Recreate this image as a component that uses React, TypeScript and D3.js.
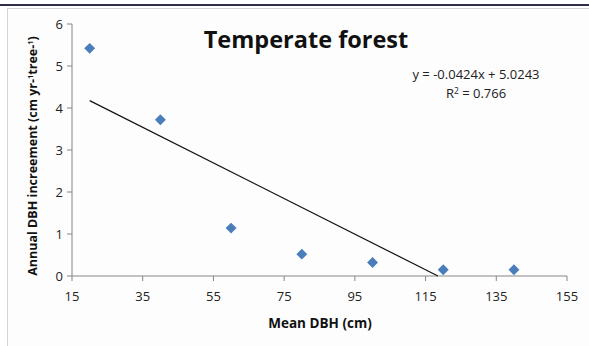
import React from "react";
import * as d3 from "d3";

const dbh = [20, 40, 60, 80, 100, 120, 140];
const increment = [5.42, 3.72, 1.14, 0.52, 0.32, 0.15, 0.15];
const xTicks = [15, 35, 55, 75, 95, 115, 135, 155];
const yTicks = [0, 1, 2, 3, 4, 5, 6];
const slope = -0.0424;
const intercept = 5.0243;

const width = 589;
const height = 346;
const font = "'Open Sans', sans-serif";

const App: React.FC = () => {
  const x = d3.scaleLinear().domain([15, 155]).range([72, 567]);
  const y = d3.scaleLinear().domain([0, 6]).range([276, 24]);

  // trend line from the first point to where it meets y = 0
  const xEnd = -intercept / slope;
  const trend = d3.line<number>()
    .x((d) => x(d))
    .y((d) => y(slope * d + intercept))([20, xEnd]);

  const diamond = d3.symbol().type(d3.symbolDiamond2).size(76)();
  const axisColor = "#868686";

  return (
    <svg width={width} height={height} style={{ position: "absolute", left: 0, top: 0, fontFamily: font }}>
      <rect width={width} height={height} fill="#fff" />
      <line x1={0} x2={width} y1={5} y2={5} stroke="#2c2e4c" strokeWidth={2} />
      <rect x={7.5} y={8.5} width={width} height={height} fill="#fdfdfd" stroke="#d4d4d4" />

      {/* y axis */}
      <line x1={x(15)} x2={x(15)} y1={y(0)} y2={y(6)} stroke={axisColor} />
      {yTicks.map((t) => (
        <g key={t}>
          <line x1={x(15) - 5} x2={x(15)} y1={y(t)} y2={y(t)} stroke={axisColor} />
          <text x={x(15) - 9} y={y(t)} dy="0.35em" textAnchor="end" fontSize={13} fill="#222">{t}</text>
        </g>
      ))}

      {/* x axis */}
      <line x1={x(15)} x2={x(155)} y1={y(0)} y2={y(0)} stroke={axisColor} />
      {xTicks.map((t) => (
        <g key={t}>
          <line x1={x(t)} x2={x(t)} y1={y(0)} y2={y(0) + 5} stroke={axisColor} />
          <text x={x(t)} y={y(0) + 25} textAnchor="middle" fontSize={13} fill="#222">{t}</text>
        </g>
      ))}

      <path d={trend ?? ""} stroke="#111" strokeWidth={1.2} fill="none" />

      {dbh.map((d, i) => (
        <path key={d} d={diamond ?? ""} transform={`translate(${x(d)},${y(increment[i])})`} fill="#4a7ebb" />
      ))}

      <text x={306} y={48} textAnchor="middle" fontSize={23.5} fontWeight="bold" fill="#111">Temperate forest</text>

      <text x={476} y={79} textAnchor="middle" fontSize={13} fill="#222">y = -0.0424x + 5.0243</text>
      <text x={476} y={98} textAnchor="middle" fontSize={13} fill="#222">
        R<tspan dy={-4} fontSize={8.5}>2</tspan><tspan dy={4}> = 0.766</tspan>
      </text>

      <text x={320} y={328} textAnchor="middle" fontSize={13.5} fontWeight="bold" fill="#111">Mean DBH (cm)</text>

      <text transform="translate(37,156) rotate(-90)" textAnchor="middle" fontSize={12.5} fontWeight="bold" fill="#111">
        Annual DBH increement (cm yr-<tspan dy={-4} fontSize={7.5}>1</tspan><tspan dy={4}>tree-</tspan><tspan dy={-4} fontSize={7.5}>1</tspan><tspan dy={4}>)</tspan>
      </text>
    </svg>
  );
};

export default App;
